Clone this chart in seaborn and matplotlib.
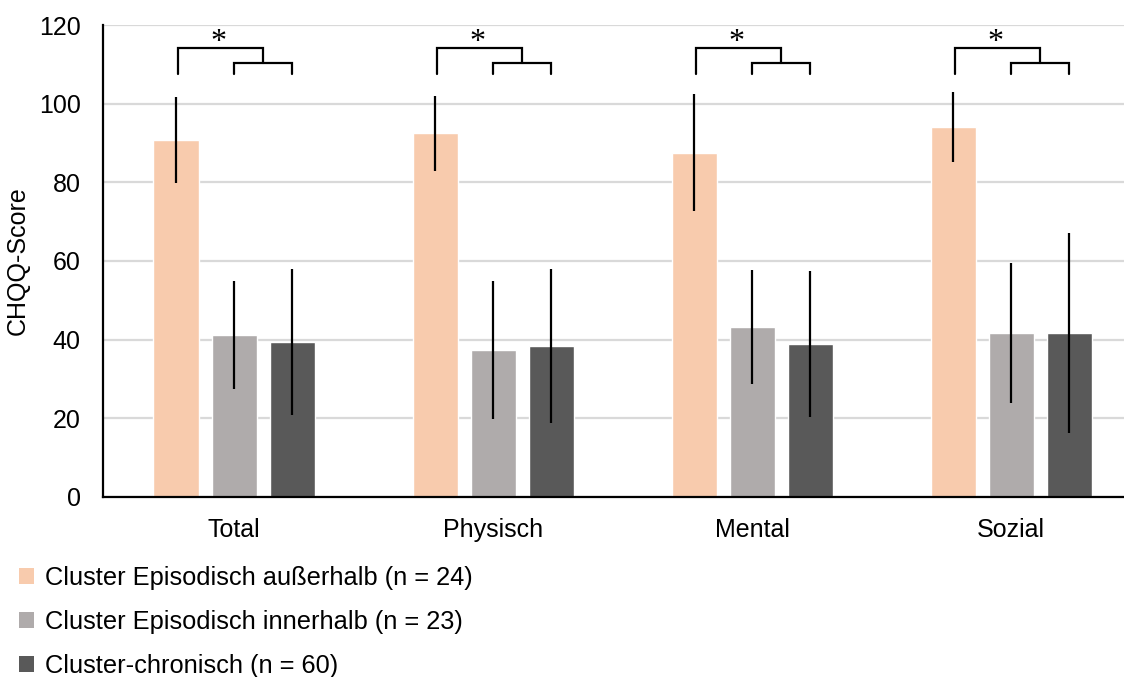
# CHQQ-Score by cluster group, grouped bar chart with SD error bars
import pandas as pd
import seaborn as sns
import matplotlib.pyplot as plt
from matplotlib.patches import Patch

sns.set_theme(style="white")
plt.rcParams['font.family'] = ['Liberation Sans', 'DejaVu Sans']
plt.rcParams['text.color'] = 'black'

# data
bereiche = ['Total', 'Physisch', 'Mental', 'Sozial']
gruppen = ['Cluster Episodisch außerhalb (n = 24)',
           'Cluster Episodisch innerhalb (n = 23)',
           'Cluster-chronisch (n = 60)']
mw_aussen = [90.8, 92.5, 87.5, 94.1]
sd_aussen = [10.9, 9.5, 14.9, 8.9]
mw_innen = [41.2, 37.4, 43.2, 41.7]
sd_innen = [13.7, 17.5, 14.4, 17.8]
mw_chron = [39.4, 38.4, 38.9, 41.7]
sd_chron = [18.5, 19.5, 18.6, 25.4]
farben = ['#F8CBAD', '#AFABAB', '#595959']

rows = []
for g, mws, sds in zip(gruppen, [mw_aussen, mw_innen, mw_chron], [sd_aussen, sd_innen, sd_chron]):
    for b, m, s in zip(bereiche, mws, sds):
        rows.append({'Bereich': b, 'Gruppe': g, 'Score': m, 'SD': s})
df = pd.DataFrame(rows)

fig = plt.figure(figsize=(11.24, 6.77), dpi=100)
ax = fig.add_axes([0.0916, 0.266, 0.9084, 0.697])

sns.barplot(data=df, x='Bereich', y='Score', hue='Gruppe', order=bereiche,
            hue_order=gruppen, palette=farben, width=0.672, gap=0.224,
            errorbar=None, legend=False, saturation=1, ax=ax)

# error bars (SD), centred on each bar
for i, g in enumerate(gruppen):
    sub = df[df['Gruppe'] == g].set_index('Bereich').loc[bereiche]
    xs = [p.get_x() + p.get_width() / 2 for p in ax.containers[i]]
    ax.errorbar(xs, sub['Score'], yerr=sub['SD'], fmt='none', ecolor='black',
                elinewidth=1.6, capsize=0, zorder=3)

# significance brackets
for j in range(len(bereiche)):
    x1 = ax.containers[0][j].get_x() + ax.containers[0][j].get_width() / 2 + 0.008
    x2 = ax.containers[1][j].get_x() + ax.containers[1][j].get_width() / 2
    x3 = ax.containers[2][j].get_x() + ax.containers[2][j].get_width() / 2
    xm = (x2 + x3) / 2
    ax.plot([x2, x2, x3, x3], [107.5, 110.3, 110.3, 107.5], color='black', lw=1.6,
            solid_joinstyle='miter', clip_on=False)
    ax.plot([x1, x1, xm, xm], [107.5, 114.2, 114.2, 110.3], color='black', lw=1.6,
            solid_joinstyle='miter', clip_on=False)
    ax.text((x1 + xm) / 2 - 0.01, 115.6, '*', ha='center', va='center', fontsize=23,
            family=['Liberation Serif', 'DejaVu Serif'])

ax.set_ylim(0, 120)
ax.set_xlim(-0.506, 3.436)
ax.set_yticks(range(0, 121, 20))
ax.yaxis.grid(True, color='#D9D9D9', lw=1.6)
ax.set_axisbelow(True)
ax.tick_params(axis='both', length=0, labelsize=18, colors='black')
ax.tick_params(axis='y', pad=16)
ax.tick_params(axis='x', pad=15)
ax.set_xlabel('')
ax.set_ylabel('CHQQ-Score', fontsize=18, color='black')
ax.yaxis.set_label_coords(-0.072, 0.5)
for side in ['top', 'right']:
    ax.spines[side].set_visible(False)
for side in ['left', 'bottom']:
    ax.spines[side].set_color('black')
    ax.spines[side].set_linewidth(1.6)

handles = [Patch(facecolor=c, edgecolor='none', label=g) for c, g in zip(farben, gruppen)]
fig.legend(handles=handles, loc='upper left', bbox_to_anchor=(0.008, 0.179),
           frameon=False, fontsize=18.3, handlelength=0.6, handleheight=0.6,
           handletextpad=0.4, labelspacing=0.78, borderaxespad=0)

plt.savefig('out.png', dpi=100)
